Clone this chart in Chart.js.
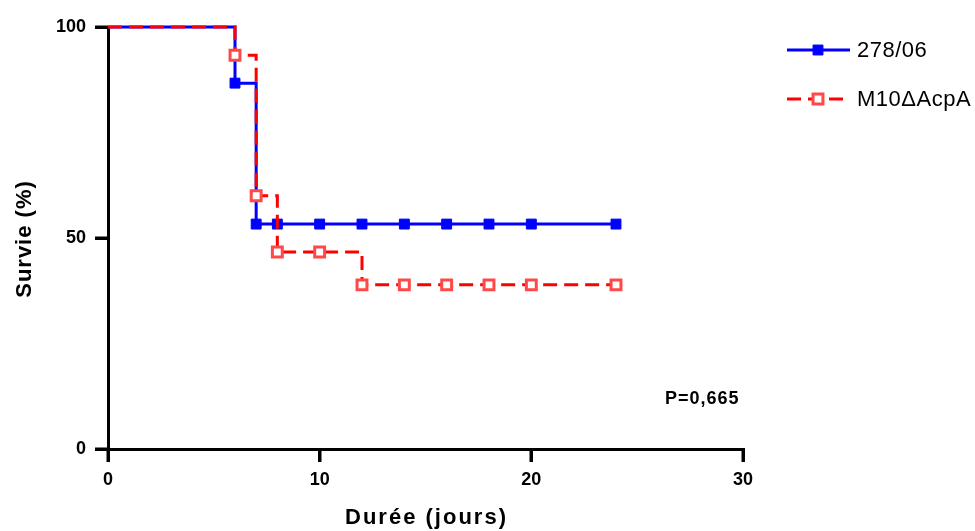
<!DOCTYPE html>
<html>
<head>
<meta charset="utf-8">
<script src="https://cdn.jsdelivr.net/npm/chart.js@4"></script>
<style>
  html, body { margin: 0; padding: 0; background: #fff; }
  #wrap { width: 975px; height: 531px; position: relative; }
</style>
</head>
<body>
<div id="wrap"><canvas id="survieChart" width="975" height="531"></canvas></div>
<script>
// Kaplan-Meier survival, values
const jours278 = [0, 6, 7, 8, 10, 12, 14, 16, 18, 20, 24];
const survie278 = [100, 86.7, 53.3, 53.3, 53.3, 53.3, 53.3, 53.3, 53.3, 53.3, 53.3];
const joursM10 = [0, 6, 7, 8, 10, 12, 14, 16, 18, 20, 24];
const survieM10 = [100, 93.3, 60, 46.7, 46.7, 38.9, 38.9, 38.9, 38.9, 38.9, 38.9];
const seriesLabels = ["278/06", "M10\u0394AcpA"];
const xTicks = [0, 10, 20, 30];
const yTicks = [0, 50, 100];
const xTitle = "Durée (jours)";
const yTitle = "Survie (%)";
const pValueText = "P=0,665";

const FONT = "Arial, 'Liberation Sans', sans-serif";
const BLUE = "#0000ff";
const RED = "#ff0000";
const RED_MARK = "#ff4848";
const TICK_LEN = 13;

function toPoints(xs, ys) {
    return xs.map((x, i) => ({x: x, y: ys[i]}));
}

// no marker on the starting point (day 0)
function markerRadius(ctx) {
    return ctx.dataIndex === 0 ? 0 : 7;
}

// Tick marks, legend, axis titles and p-value drawn on the canvas
const extraText = {
    id: "extraText",
    afterDraw(chart) {
        const ctx = chart.ctx;
        const area = chart.chartArea;
        const xs = chart.scales.x;
        const ys = chart.scales.y;
        ctx.save();

        // tick marks (outside the plot)
        ctx.strokeStyle = "#000";
        ctx.lineWidth = 3;
        ctx.beginPath();
        xs.ticks.forEach((t) => {
            const px = Math.round(xs.getPixelForValue(t.value));
            ctx.moveTo(px, area.bottom);
            ctx.lineTo(px, area.bottom + TICK_LEN);
        });
        ys.ticks.forEach((t) => {
            const py = Math.round(ys.getPixelForValue(t.value));
            ctx.moveTo(area.left, py);
            ctx.lineTo(area.left - TICK_LEN, py);
        });
        ctx.stroke();

        ctx.fillStyle = "#000";
        ctx.textBaseline = "middle";

        // axis titles
        ctx.font = "bold 22px " + FONT;
        ctx.textAlign = "center";
        ctx.letterSpacing = "2px";
        ctx.fillText(xTitle, (area.left + area.right) / 2 + 1, 518);
        ctx.save();
        ctx.translate(25, 239);
        ctx.rotate(-Math.PI / 2);
        ctx.letterSpacing = "1px";
        ctx.fillText(yTitle, 0, 0);
        ctx.restore();

        // p-value
        ctx.font = "bold 18px " + FONT;
        ctx.letterSpacing = "1px";
        ctx.textAlign = "left";
        ctx.fillText(pValueText, 665, 399);

        // legend
        const rows = [
            {y: 50, color: BLUE, dash: [], mark: BLUE, fill: BLUE, bw: 1},
            {y: 99, color: RED, dash: [14, 7], mark: RED_MARK, fill: "#fff", bw: 3}
        ];
        rows.forEach((row, i) => {
            ctx.beginPath();
            ctx.setLineDash(row.dash);
            ctx.lineWidth = 3;
            ctx.strokeStyle = row.color;
            ctx.moveTo(787, row.y);
            ctx.lineTo(850, row.y);
            ctx.stroke();
            ctx.setLineDash([]);
            const s = 9.9;
            ctx.fillStyle = row.fill;
            ctx.strokeStyle = row.mark;
            ctx.lineWidth = row.bw;
            ctx.beginPath();
            ctx.rect(818 - s / 2, row.y - s / 2, s, s);
            ctx.fill();
            ctx.stroke();

            ctx.fillStyle = "#000";
            ctx.font = "22px " + FONT;
            ctx.letterSpacing = "0.5px";
            ctx.textAlign = "left";
            ctx.fillText(seriesLabels[i], 857, row.y + 1);
        });
        ctx.restore();
    }
};

const ctx = document.getElementById("survieChart").getContext("2d");

new Chart(ctx, {
    type: "line",
    data: {
        datasets: [
            {
                label: seriesLabels[0],
                data: toPoints(jours278, survie278),
                stepped: "before",
                borderColor: BLUE,
                borderWidth: 3,
                backgroundColor: BLUE,
                pointStyle: "rect",
                pointRadius: markerRadius,
                pointBorderWidth: 1,
                pointBorderColor: BLUE,
                pointBackgroundColor: BLUE,
                fill: false,
                clip: false,
                order: 1
            },
            {
                label: seriesLabels[1],
                data: toPoints(joursM10, survieM10),
                stepped: "before",
                borderColor: RED,
                borderWidth: 3,
                borderDash: [14, 7],
                backgroundColor: "#fff",
                pointStyle: "rect",
                pointRadius: markerRadius,
                pointBorderWidth: 3,
                pointBorderColor: RED_MARK,
                pointBackgroundColor: "#fff",
                fill: false,
                clip: false,
                order: 0
            }
        ]
    },
    options: {
        responsive: false,
        maintainAspectRatio: false,
        animation: false,
        events: [],
        layout: {
            padding: {top: 27, right: 232, left: 0, bottom: 0}
        },
        plugins: {
            legend: {display: false},
            tooltip: {enabled: false}
        },
        scales: {
            x: {
                type: "linear",
                min: 0,
                max: 30,
                afterBuildTicks: (scale) => {
                    scale.ticks = xTicks.map((v) => ({value: v}));
                },
                afterFit: (scale) => {
                    scale.height = 82;
                },
                ticks: {
                    color: "#000",
                    padding: 7,
                    maxRotation: 0,
                    font: {family: FONT, size: 18, weight: "bold"}
                },
                grid: {
                    drawOnChartArea: false,
                    drawTicks: true,
                    tickLength: TICK_LEN,
                    lineWidth: 3,
                    color: "#000"
                },
                border: {display: true, width: 3, color: "#000"}
            },
            y: {
                type: "linear",
                min: 0,
                max: 100,
                afterBuildTicks: (scale) => {
                    scale.ticks = yTicks.map((v) => ({value: v}));
                },
                afterFit: (scale) => {
                    scale.width = 108;
                },
                ticks: {
                    color: "#000",
                    padding: 9,
                    font: {family: FONT, size: 18, weight: "bold"}
                },
                grid: {
                    drawOnChartArea: false,
                    drawTicks: true,
                    tickLength: TICK_LEN,
                    lineWidth: 3,
                    color: "#000"
                },
                border: {display: true, width: 3, color: "#000"}
            }
        }
    },
    plugins: [extraText]
});
</script>
</body>
</html>
